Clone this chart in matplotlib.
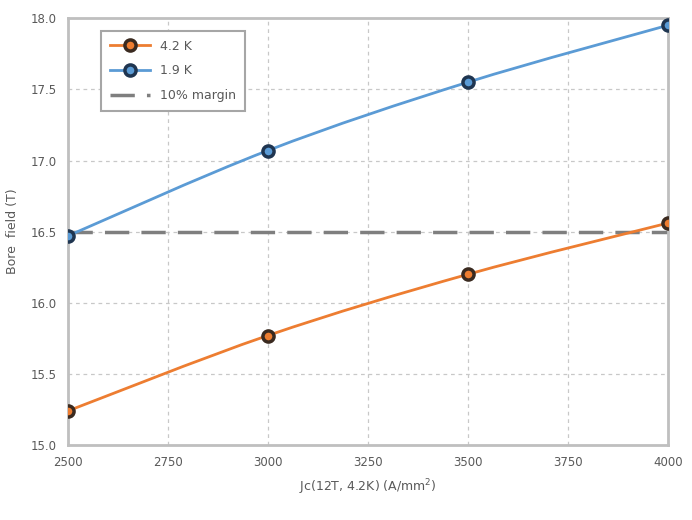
import matplotlib.pyplot as plt
from matplotlib.path import Path
from matplotlib.patches import PathPatch

jc = [2500, 3000, 3500, 4000]
field_42 = [15.24, 15.77, 16.20, 16.56]
field_19 = [16.47, 17.07, 17.55, 17.95]
margin = 16.5


def smooth_path(xs, ys):
    # excel-style smoothed line drawn as cubic bezier segments through the points
    pts = list(zip(xs, ys))
    verts = [pts[0]]
    codes = [Path.MOVETO]
    n = len(pts)
    for i in range(n - 1):
        p0 = pts[max(i - 1, 0)]
        p1 = pts[i]
        p2 = pts[i + 1]
        p3 = pts[min(i + 2, n - 1)]
        c1 = (p1[0] + (p2[0] - p0[0]) / 6, p1[1] + (p2[1] - p0[1]) / 6)
        c2 = (p2[0] - (p3[0] - p1[0]) / 6, p2[1] - (p3[1] - p1[1]) / 6)
        verts += [c1, c2, p2]
        codes += [Path.CURVE4] * 3
    return Path(verts, codes)


fig = plt.figure(figsize=(6.92, 5.2), dpi=100)
ax = fig.add_axes([0.098, 0.144, 0.867, 0.821])

txt = "#595959"
c42, c19 = "#ED7D31", "#5B9BD5"
for ys, c in [(field_42, c42), (field_19, c19)]:
    ax.add_patch(PathPatch(smooth_path(jc, ys), fc="none", ec=c, lw=2, zorder=3))

ax.plot(jc, field_42, color=c42, lw=2, ls="none", marker="o", ms=8,
        mfc=c42, mec="#3a2a20", mew=2.5, zorder=4)
ax.plot(jc, field_19, color=c19, lw=2, ls="none", marker="o", ms=8,
        mfc=c19, mec="#1f3550", mew=2.5, zorder=4)
# legend proxies
ax.plot([], [], color=c42, lw=2, marker="o", ms=8, mfc=c42, mec="#3a2a20",
        mew=2.5, label="4.2 K")
ax.plot([], [], color=c19, lw=2, marker="o", ms=8, mfc=c19, mec="#1f3550",
        mew=2.5, label="1.9 K")
ax.plot([jc[0], jc[-1]], [margin, margin], color="#7f7f7f", lw=2.5,
        ls=(0, (7, 3.5)), label="10% margin", zorder=2)

ax.set_xlim(2500, 4000)
ax.set_ylim(15.0, 18.0)
ax.set_xticks([2500, 2750, 3000, 3250, 3500, 3750, 4000])
ax.set_yticks([15.0, 15.5, 16.0, 16.5, 17.0, 17.5, 18.0])
ax.yaxis.set_major_formatter(plt.FormatStrFormatter("%.1f"))
ax.grid(True, color="#c8c8c8", ls=(0, (3, 3)), lw=0.9)
ax.tick_params(length=0, labelsize=8.5, colors=txt, pad=8)
for s in ax.spines.values():
    s.set_color("#bfbfbf")
    s.set_linewidth(2)

ax.set_xlabel("Jc(12T, 4.2K) (A/mm$^2$)", fontsize=9, color=txt, labelpad=6)
ax.set_ylabel("Bore  field (T)", fontsize=9, color=txt, labelpad=8)

leg = ax.legend(loc="upper left", bbox_to_anchor=(0.045, 0.985), fontsize=9,
                frameon=True, fancybox=False, edgecolor="#a6a6a6",
                labelcolor=txt, handlelength=3.2, labelspacing=0.95,
                borderpad=0.7, framealpha=1)
leg.get_frame().set_linewidth(1.5)

fig.savefig("out.png", dpi=100)
